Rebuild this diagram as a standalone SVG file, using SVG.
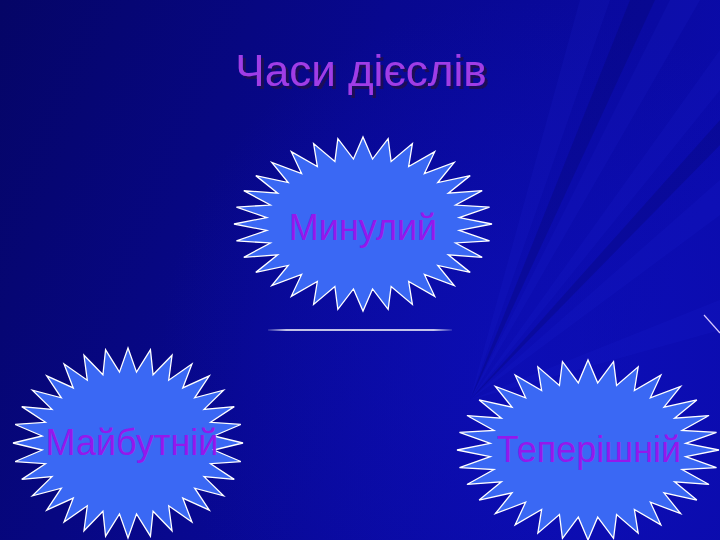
<svg xmlns="http://www.w3.org/2000/svg" width="720" height="540" viewBox="0 0 720 540">
<defs>
<style>
.star{fill:#3a68f4;stroke:#ffffff;stroke-width:1.3;}
.lbl{font-family:"Liberation Sans",Arial,sans-serif;font-size:36px;fill:#9418ec;text-anchor:middle;}
.title{font-family:"Liberation Sans",Arial,sans-serif;font-size:44px;text-anchor:middle;fill:#a03ce6;}
</style>
<filter id="shadow" x="-10%" y="-30%" width="120%" height="160%">
<feDropShadow dx="3" dy="3" stdDeviation="0.6" flood-color="#1c0a58" flood-opacity="1"/>
</filter>
<linearGradient id="bg" x1="0" y1="0" x2="1" y2="0.3">
<stop offset="0" stop-color="#050566"/>
<stop offset="0.5" stop-color="#08088f"/>
<stop offset="1" stop-color="#0b0bab"/>
</linearGradient>
<radialGradient id="glow" cx="520" cy="360" r="360" gradientUnits="userSpaceOnUse">
<stop offset="0" stop-color="#0e10c0" stop-opacity="0.6"/>
<stop offset="1" stop-color="#0e10c0" stop-opacity="0"/>
</radialGradient>
<linearGradient id="lineg" x1="268" y1="0" x2="452" y2="0" gradientUnits="userSpaceOnUse">
<stop offset="0" stop-color="#ffffff" stop-opacity="0.15"/>
<stop offset="0.1" stop-color="#ffffff"/>
<stop offset="0.9" stop-color="#ffffff"/>
<stop offset="1" stop-color="#ffffff" stop-opacity="0.15"/>
</linearGradient>
<polygon id="star" class="star" vector-effect="non-scaling-stroke" points="1,0 .746,.074 .981,.195 .718,.218 .924,.383 .661,.354 .831,.556 .580,.476 .707,.707 .476,.580 .556,.831 .354,.661 .383,.924 .218,.718 .195,.981 .074,.746 0,1 -.074,.746 -.195,.981 -.218,.718 -.383,.924 -.354,.661 -.556,.831 -.476,.580 -.707,.707 -.580,.476 -.831,.556 -.661,.354 -.924,.383 -.718,.218 -.981,.195 -.746,.074 -1,0 -.746,-.074 -.981,-.195 -.718,-.218 -.924,-.383 -.661,-.354 -.831,-.556 -.580,-.476 -.707,-.707 -.476,-.580 -.556,-.831 -.354,-.661 -.383,-.924 -.218,-.718 -.195,-.981 -.074,-.746 0,-1 .074,-.746 .195,-.981 .218,-.718 .383,-.924 .354,-.661 .556,-.831 .476,-.580 .707,-.707 .580,-.476 .831,-.556 .661,-.354 .924,-.383 .718,-.218 .981,-.195 .746,-.074"/>
</defs>
<g id="background">
<rect width="720" height="540" fill="url(#bg)"/>
<rect width="720" height="540" fill="url(#glow)"/>
<g fill="#2830e8" opacity="0.1">
<polygon points="470,400 580,0 610,0"/>
<polygon points="470,400 670,0 700,0"/>
<polygon points="470,400 720,50 720,90"/>
<polygon points="470,400 720,180 720,215"/>
<polygon points="470,400 720,300 720,330"/>
</g>
<g fill="#030350" opacity="0.2">
<polygon points="470,400 630,0 655,0"/>
<polygon points="470,400 720,120 720,145"/>
</g>
</g>
<g id="title">
<text class="title" x="361" y="86" filter="url(#shadow)">Часи дієслів</text>
</g>
<g id="connectors">
<line x1="268" y1="330" x2="452" y2="330" stroke="url(#lineg)" stroke-width="1.6"/>
<line x1="704" y1="315" x2="720" y2="333" stroke="#d8c8ff" stroke-width="1.2"/>
</g>
<g id="node-past">
<use href="#star" transform="translate(363,224) scale(129,87)"/>
<text class="lbl" x="363" y="240">Минулий</text>
</g>
<g id="node-future">
<use href="#star" transform="translate(128,443) scale(115,95)"/>
<text class="lbl" x="132" y="455">Майбутній</text>
</g>
<g id="node-present">
<use href="#star" transform="translate(588,450) scale(131,90)"/>
<text class="lbl" x="589" y="462">Теперішній</text>
</g>
</svg>
